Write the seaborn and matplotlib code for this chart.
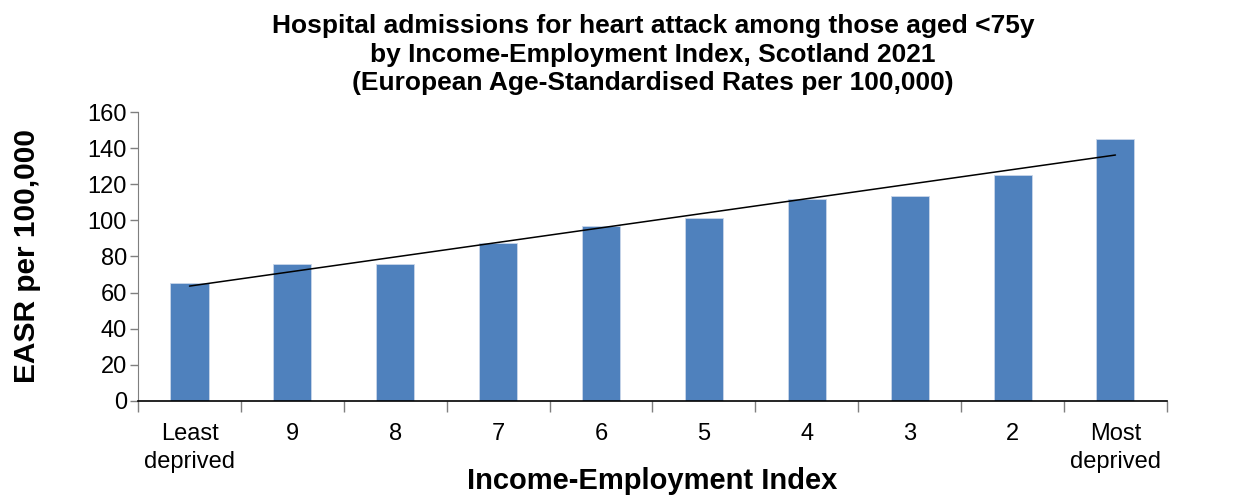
import numpy as np
import pandas as pd
import matplotlib
matplotlib.use("Agg")
import matplotlib.pyplot as plt
import seaborn as sns

categories = ["Least\ndeprived", "9", "8", "7", "6", "5", "4", "3", "2", "Most\ndeprived"]
easr = [65.4, 76.1, 75.8, 87.2, 97.0, 101.4, 112.0, 113.6, 125.3, 145.2]

bar_color = "#4F81BD"

sns.set_style("white")
plt.rcParams['font.family'] = ['Liberation Sans', 'DejaVu Sans']
plt.rcParams['text.color'] = 'black'
plt.rcParams['axes.labelcolor'] = 'black'
plt.rcParams['xtick.color'] = 'black'
plt.rcParams['ytick.color'] = 'black'

df = pd.DataFrame({"group": categories, "easr": easr})

fig = plt.figure(figsize=(12.44, 4.98), dpi=100)
ax = fig.add_axes([0.111, 0.1948, 0.827, 0.5803])

sns.barplot(data=df, x="group", y="easr", color=bar_color, width=0.37,
            saturation=1, edgecolor="#c9d6ea", linewidth=0.6, ax=ax)

# linear trendline (like excel)
xs = np.arange(len(easr))
k, b = np.polyfit(xs, easr, 1)
ax.plot(xs, k * xs + b, color="black", lw=1.1)

ax.set_xlim(-0.5, len(easr) - 0.5)
ax.set_ylim(0, 160)
ax.set_yticks(range(0, 161, 20))
ax.tick_params(axis='y', labelsize=17, length=6, width=1, color="#7f7f7f", labelcolor='black',
               direction='out', left=True, pad=2)
ax.tick_params(axis='x', which='major', labelsize=17, length=0, pad=16, labelcolor='black')
ax.set_xticks(np.arange(-0.5, len(easr), 1), minor=True)
ax.tick_params(axis='x', which='minor', length=8, width=1, color="#7f7f7f", direction='out', bottom=True)
for t in ax.get_xticklabels():
    t.set_linespacing(1.35)

for s in ["top", "right"]:
    ax.spines[s].set_visible(False)
ax.spines["left"].set_color("#7f7f7f")
ax.spines["bottom"].set_color("black")
ax.spines["bottom"].set_linewidth(1.2)

ax.set_xlabel("Income-Employment Index", fontsize=21, fontweight='bold')
ax.set_ylabel("EASR per 100,000", fontsize=21.5, fontweight='bold')
ax.xaxis.set_label_coords(0.5, -0.228)
ax.yaxis.set_label_coords(-0.094, 0.5)

fig.text(0.525, 0.972, "Hospital admissions for heart attack among those aged <75y\n"
         "by Income-Employment Index, Scotland 2021\n"
         "(European Age-Standardised Rates per 100,000)",
         ha='center', va='top', fontsize=19, fontweight='bold', linespacing=1.25)

fig.savefig("out.png", dpi=100)
